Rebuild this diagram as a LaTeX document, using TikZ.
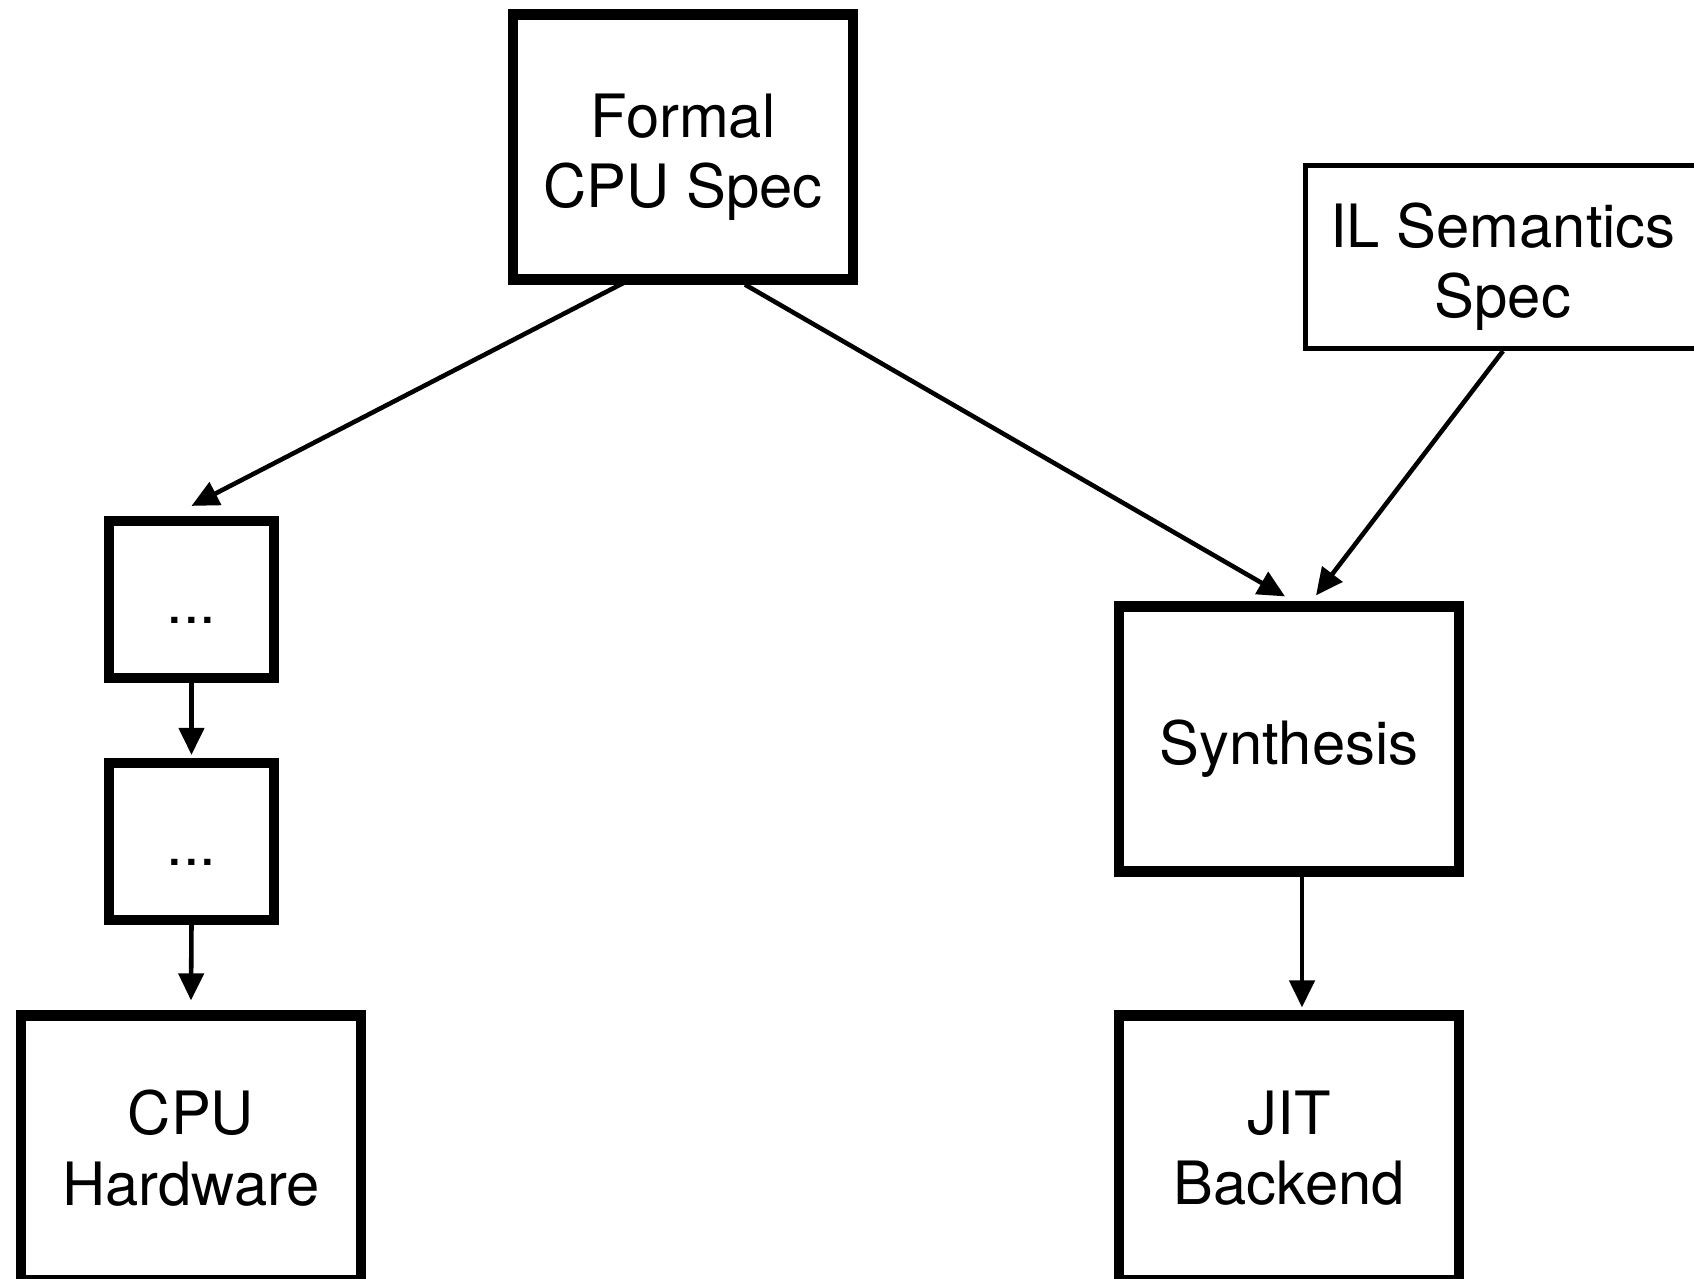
\documentclass[tikz,border=0pt]{standalone}
\usepackage{fontspec}
\setmainfont{TeX Gyre Heros}
\usetikzlibrary{arrows.meta}
\newcommand{\lowtxt}[1]{\raisebox{-1mm}[\height][\depth]{#1}}

\begin{document}
\begin{tikzpicture}[
        box/.style={draw, line width=2.9pt, minimum width=3.40cm, minimum height=2.65cm, align=center, font=\fontsize{17}{20}\selectfont},
        smallbox/.style={draw, line width=2.9pt, minimum width=1.65cm, minimum height=1.57cm, font=\fontsize{17}{20}\selectfont},
        thinbox/.style={draw, line width=1.4pt, minimum width=3.95cm, minimum height=1.83cm, align=center, font=\fontsize{17}{20}\selectfont},
        arr/.style={line width=1.3pt, -{Triangle[length=2.7mm, width=2.5mm]}}]
                \useasboundingbox (0, 0) rectangle (16.94, 12.78);

                % zgornji skatli
                \node (formal) at (6.83, 11.31) [box] {\lowtxt{Formal}\\\lowtxt{CPU Spec}};
                \node (il) at (15.03, 10.21) [thinbox] {\lowtxt{IL Semantics}\\\lowtxt{Spec}};

                % leva veja
                \node (dots1) at (1.915, 6.785) [smallbox] {\strut\lowtxt{...}};
                \node (dots2) at (1.915, 4.365) [smallbox] {\strut\lowtxt{...}};
                \node (cpu) at (1.91, 1.30) [box] {CPU\\Hardware};

                % desna veja
                \node (synth) at (12.89, 5.39) [box] {\lowtxt{Synthesis}};
                \node (jit) at (12.89, 1.30) [box] {JIT\\Backend};

                % puscice
                \draw[arr] ([xshift=-0.53cm, yshift=0.05cm]formal.south) -- ([yshift=0.1cm]dots1.north);
                \draw[arr] ([xshift=0.62cm]formal.south) -- ([xshift=-0.04cm, yshift=0.05cm]synth.north);
                \draw[arr] (il.south) -- ([xshift=0.27cm, yshift=0.06cm]synth.north);
                \draw[arr] (dots1.south) -- ([yshift=0.03cm]dots2.north);
                \draw[arr] (dots2.south) -- ([yshift=0.1cm]cpu.north);
                \draw[arr] ([xshift=0.13cm]synth.south) -- ([xshift=0.13cm, yshift=0.03cm]jit.north);
            \end{tikzpicture}
\end{document}
